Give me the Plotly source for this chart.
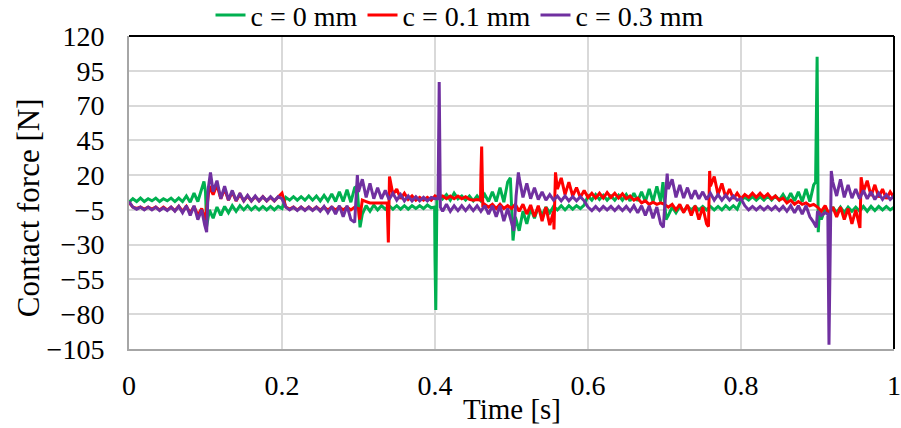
import plotly.graph_objects as go

# ---------------- data ----------------
series_names = ["c = 0 mm", "c = 0.1 mm", "c = 0.3 mm"]
series_colors = ["#00B050", "#FF0000", "#7030A0"]

x_tick_vals = [0, 0.2, 0.4, 0.6, 0.8, 1.0]
x_tick_text = ["0", "0.2", "0.4", "0.6", "0.8", "1"]
y_tick_vals = [120, 95, 70, 45, 20, -5, -30, -55, -80, -105]

# samples every 0.005 s from 0 to 1 s (201 values per series)
grid_step = 0.005

force_c0 = [
    0.5, 3, 1, 3.5, 1, 3, 1.5, 3.5, 1, 3,
    1.5, 3.5, 1, 3.5, 1, 5, 0.5, 7, 1, 11,
    8, -5, -11, -3, -9, -2.5, -7, -2, -6, -2,
    -5, -2, -5, -2.5, -5, -2.5, -5, -2.5, -5, -2.5,
    -4, 4, 2, 4.5, 2, 4.5, 2, 5, 2, 5,
    1.5, 5.5, 1.5, 6.5, 1, 8, 1, 9.5, 0.5, 11,
    -2, -8, -2, -6, -1.5, -5, -2, -4.5, -2, -4.5,
    -2, -4.5, -2, -4.5, -2, -4, -2, -4, -1.5, -3.5,
    -40, 7, 3, 6, 2, 7, 3, 5, 2, 5,
    1.5, 5, 1.5, 6, 1, 8, 1, 11, 0.5, 15,
    0, -10, -20, -6, -15, -4, -11, -3, -9, -3,
    -7, -2.5, -5, -2, -5, -2, -4.5, -2, -4, -1.5,
    5, 2, 6, 2.5, 5.5, 2, 5, 2, 5.5, 2,
    6, 1.5, 7, 1.5, 8, 1, 10, 1, 12, 1,
    2, -9, -3, -7, -2.5, -6, -2.5, -5, -2.5, -5,
    -2.5, -5, -2.5, -5, -2.5, -5, -2, -4.5, -2, -4.5,
    2, 4, 2, 4.5, 2, 4.5, 2, 5, 2, 5,
    2, 6, 1.5, 7, 1.5, 8, 1, 10, 1, 13,
    40, -12, -4, -9, -3, -7, -3, -7, -3, -6,
    -3, -6, -2.5, -6, -2.5, -5.5, -2.5, -5, -2.5, -5,
    -3,
]
spike_t_c0 = [0.098, 0.1015, 0.298, 0.302, 0.3995, 0.401, 0.4025, 0.4985, 0.502,
              0.698, 0.702, 0.8975, 0.8995, 0.901, 0.9025]
spike_f_c0 = [15.5, -17, 12, -17.5, -3, -77, 3, 18, -27,
              15, -12, 15, 105, -21, -5]

force_c01 = [
    0.5, -3, -4, -3, -4.5, -3, -4.5, -3, -5, -3,
    -5, -3, -5.5, -2.5, -6, -2.5, -7, -2.5, -9, -4,
    -12, 12, 6, 13, 3, 10, 2, 8, 1.5, 6,
    1.5, 5, 1.5, 4.5, 1.5, 4.5, 1.5, 4, 1.5, 4,
    7, -3, -4.5, -3, -5, -3, -5, -3, -5, -3,
    -5, -3, -5, -3, -5, -3, -5, -3, -5, -3,
    -4, 2, 1, 0, 0, 0, 0, 0, -5, 6,
    10, 3, 7, 2.5, 5, 2, 4, 2, 4, 2,
    5, 3.5, 5, 3, 5, 3, 5, 3, 4.5, 2.5,
    2, 2.5, 20, -1, -3, -1, -4, -1, -4, -2,
    -4, -1, -6, -1, -8, -1.5, -10, -2, -13, -3,
    -16, -6, 10, 18, 6, 15, 5, 11, 4, 9,
    4, 7, 3.5, 7, 3.5, 7.5, 4, 7, 3.5, 6.5,
    3, 5, 2, 3.5, 0, 1.5, -1, 0.5, -1, 0,
    -1, -3, -1, -5, -1, -7, -1.5, -9, -2, -12,
    -3, -15, 12, 19, 6, 14, 4, 10, 3, 7,
    3, 6, 4, 7, 4, 7, 4, 6.5, 3, 5,
    2, 3.5, 0, 2, -1, 1, -1, 0, -2, -1,
    -3, -6, -2, -8, -3, -10, -3, -12, -4, -15,
    -5, -17, 8, 16, 5, 13, 4, 10, 3, 8,
    4,
]
spike_t_c01 = [0.3015, 0.3375, 0.339, 0.3405, 0.4595, 0.461, 0.4625,
               0.5555, 0.5575, 0.7575, 0.759, 0.9555, 0.957]
spike_f_c01 = [-12, 0, -28.5, 19, 2, 40.5, -3,
               -19, 22, -17, 23, -18, 18.5]

force_c03 = [
    1, -3, -4.5, -3, -5, -3, -5, -3, -5.5, -3.5,
    -5.5, -3, -6, -2.5, -7, -2, -9, -2, -12, -5,
    -18, 16, 8, 16, 3, 12, 2, 9, 1.5, 7,
    1.5, 5.5, 1.5, 5, 1.5, 4.5, 1.5, 4.5, 1.5, 4.5,
    3, -3, -5, -3, -5.5, -3, -5.5, -3, -5.5, -3,
    -6, -2.5, -7, -2.5, -8, -2, -10, -2, -12, -14,
    8, 17, 4, 14, 3, 11, 3, 9, 2.5, 7,
    2, 6, 1.5, 5, 1.5, 4.5, 1.5, 4, 1.5, 4,
    3, 45, -6, -1, -6, -2, -5.5, -2, -5.5, -2,
    -5.5, -2, -6, -2, -8, -2, -10, -2, -13, -4,
    -14, -5, 18, 4, 14, 3, 11, 2.5, 8, 2,
    6, 2, 5, 1.5, 5, 1.5, 4.5, 1.5, 4.5, 1.5,
    -3, -5.5, -2.5, -5.5, -2.5, -5, -2.5, -5.5, -2.5, -5.5,
    -2.5, -6, -2, -7, -2, -9, -2, -11, -3, -15,
    -5, 10, 17, 4, 13, 3.5, 11, 3, 9, 3,
    8, 2.5, 7, 2, 6, 2, 5.5, 2, 5, 2,
    3, -2, -5, -2.5, -5, -2.5, -5, -2.5, -5, -2.5,
    -5.5, -2.5, -6, -2, -7, -2, -8, -2, -10, -14,
    -6, -9, -7, -102, 15, 5, 17, 4, 13, 3.5,
    10, 3, 9, 3, 8, 2.5, 7, 2.5, 6, 2.5,
    5,
]
spike_t_c03 = [0.099, 0.1015, 0.1035, 0.1065, 0.2985, 0.404, 0.4055, 0.407,
               0.503, 0.506, 0.509, 0.6985, 0.7015, 0.7035, 0.8985, 0.9135,
               0.9165, 0.918]
spike_f_c03 = [-16, -21, 10, 22, 20, 3, 87, -3,
               -20, 5, 22, -17.5, 5, 21, -17.5, -8,
               -20, 23]


def merge(values, spike_t, spike_f):
    pts = [(round(i * grid_step, 4), v) for i, v in enumerate(values)]
    pts += list(zip(spike_t, spike_f))
    pts.sort(key=lambda p: p[0])
    return [p[0] for p in pts], [p[1] for p in pts]


all_series = [
    merge(force_c0, spike_t_c0, spike_f_c0),
    merge(force_c01, spike_t_c01, spike_f_c01),
    merge(force_c03, spike_t_c03, spike_f_c03),
]

# ---------------- figure ----------------
FONT = "Liberation Serif, Times New Roman, serif"
fig = go.Figure()
for (tx, fy), name, color in zip(all_series, series_names, series_colors):
    fig.add_trace(go.Scatter(x=tx, y=fy, mode="lines", name=name,
                             line=dict(color=color, width=3)))

fig.update_layout(
    width=901, height=428,
    margin=dict(l=129, r=7, t=36, b=79, autoexpand=False),
    paper_bgcolor="white", plot_bgcolor="white",
    font=dict(family=FONT, size=28, color="black"),
    showlegend=True,
    legend=dict(orientation="h", xref="container", yref="paper",
                x=0.51, xanchor="center", y=1.066, yanchor="middle",
                font=dict(family=FONT, size=28, color="black"),
                bgcolor="rgba(0,0,0,0)", itemwidth=30,
                tracegroupgap=0),
    xaxis=dict(range=[0, 1], tickvals=x_tick_vals, ticktext=x_tick_text,
               showgrid=True, gridcolor="#D9D9D9", gridwidth=2,
               zeroline=False, showline=True, linecolor="#A6A6A6",
               linewidth=2, ticks="", ticklabelstandoff=10,
               tickfont=dict(family=FONT, size=28, color="black")),
    yaxis=dict(range=[-105, 120], tickvals=y_tick_vals,
               showgrid=True, gridcolor="#D9D9D9", gridwidth=2,
               zeroline=False, showline=True, linecolor="#A6A6A6",
               linewidth=2, ticks="", ticklabelstandoff=17,
               tickfont=dict(family=FONT, size=28, color="black")),
    shapes=[
        dict(type="line", xref="paper", yref="paper", x0=0, x1=1, y0=1, y1=1,
             line=dict(color="black", width=2), layer="above"),
        dict(type="line", xref="paper", yref="paper", x0=1, x1=1, y0=0, y1=1,
             line=dict(color="black", width=2), layer="above"),
    ],
    annotations=[
        dict(text="Time [s]", xref="paper", yref="paper", x=0.5, y=-0.192,
             xanchor="center", yanchor="middle", showarrow=False,
             font=dict(family=FONT, size=29, color="black")),
        dict(text="Contact force [N]", xref="paper", yref="paper", x=-0.132,
             y=0.45, xanchor="center", yanchor="middle", textangle=-90,
             showarrow=False, font=dict(family=FONT, size=31, color="black")),
    ],
)

fig.write_html(
    "out.html",
    config={"displayModeBar": False},
    post_script="document.body.style.margin='0';document.body.style.overflow='hidden';",
)
